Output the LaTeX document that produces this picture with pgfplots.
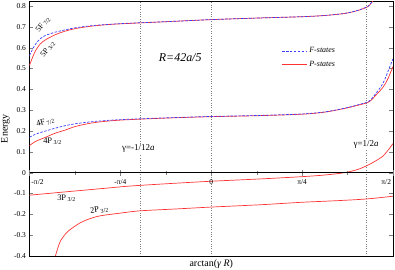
\documentclass[border=0pt]{standalone}
\usepackage{fontspec}
\setmainfont{Liberation Serif}
\usepackage{pgfplots}
\pgfplotsset{compat=1.18}
\definecolor{fblue}{RGB}{60,60,255}
\definecolor{pred}{RGB}{255,50,50}
\tikzset{fdash/.style={fblue, dash pattern=on 2.5pt off 1.5pt, line width=0.7pt}}
\begin{document}
\begin{tikzpicture}
\begin{axis}[
  name=main,
  scale only axis, width=363.5bp, height=254.5bp,
  xmin=-1.5708, xmax=1.5708, ymin=-0.4, ymax=0.822,
  xtick=\empty,
  ytick={-0.4,-0.3,-0.2,-0.1,0,0.1,0.2,0.3,0.4,0.5,0.6,0.7,0.8},
  yticklabel style={font=\fontsize{7.5}{8}\selectfont},
  ytick align=inside, major tick length=4bp,
  /pgf/number format/assume math mode=true,
  /pgf/number format/fixed, /pgf/number format/precision=1,
  ylabel={Energy}, ylabel style={font=\fontsize{10}{11}\selectfont, at={(axis description cs:-0.066,0.5)}, anchor=center},
  xlabel={arctan(\textit{γ R})}, xlabel style={font=\fontsize{10}{11}\selectfont},
  axis line style={line width=0.6pt},
  legend style={draw=none, fill=none, at={(0.685,0.835)}, anchor=north west,
    font=\fontsize{8}{9}\selectfont\itshape, row sep=3bp},
  legend cell align=left,
]
\addlegendimage{legend image code/.code={\draw[fblue, dash pattern=on 2.5pt off 1.5pt, line width=0.7pt] (0bp,0bp) -- (25bp,0bp);}}
\addlegendentry{F-states}
\addlegendimage{legend image code/.code={\draw[pred, line width=0.7pt] (0bp,0bp) -- (25bp,0bp);}}
\addlegendentry{P-states}

% vertical dotted lines
\addplot[gray, dotted, forget plot] coordinates {(-0.6107,-0.4) (-0.6107,0.822)};
\addplot[gray, dotted, forget plot] coordinates {(0,-0.4) (0,0.822)};
\addplot[gray, dotted, forget plot] coordinates {(1.3380,-0.4) (1.3380,0.822)};

% P states (red)
\addplot[pred, line width=0.7pt, smooth, forget plot] coordinates {
(-1.5708,0.515) (-1.545,0.553) (-1.519,0.585) (-1.48,0.617) (-1.4327,0.638)
(-1.3464,0.663) (-1.2601,0.680) (-1.1738,0.692) (-1.0296,0.704) (-0.8717,0.712)
(-0.6991,0.717) (-0.3539,0.726) (0,0.735) (0.4229,0.743) (0.7854,0.749)
(0.9839,0.755) (1.1565,0.765) (1.2687,0.779) (1.3524,0.797) (1.38,0.813) (1.40,0.827) (1.44,0.86)};
\addplot[pred, line width=0.7pt, smooth, forget plot] coordinates {
(-1.5708,0.130) (-1.519,0.150) (-1.4327,0.170) (-1.3464,0.190) (-1.2601,0.205)
(-1.1738,0.222) (-1.0296,0.239) (-0.8717,0.249) (-0.6991,0.255) (-0.3539,0.263)
(0,0.269) (0.4229,0.274) (0.7854,0.281) (0.9839,0.291) (1.1565,0.309)
(1.2687,0.324) (1.3524,0.337) (1.39,0.352) (1.4155,0.368) (1.45,0.388)
(1.48,0.407) (1.5017,0.425) (1.53,0.455) (1.5708,0.510)};
\addplot[pred, line width=0.7pt, smooth, forget plot] coordinates {
(-1.5708,-0.108) (-1.2,-0.089) (-0.9,-0.074) (-0.6991,-0.064) (-0.3539,-0.052)
(0,-0.041) (0.4229,-0.030) (0.7854,-0.019) (0.9839,-0.011) (1.15,0.000)
(1.2687,0.016) (1.3524,0.036) (1.4155,0.055) (1.4844,0.080) (1.5406,0.117) (1.5708,0.140)};
\addplot[pred, line width=0.7pt, smooth, forget plot] coordinates {
(-1.37,-0.46) (-1.3464,-0.400) (-1.3248,-0.360) (-1.3032,-0.328) (-1.26,-0.294)
(-1.2169,-0.272) (-1.1306,-0.240) (-1.0443,-0.220) (-0.958,-0.207) (-0.785,-0.194)
(-0.613,-0.183) (-0.3,-0.174) (0,-0.165) (0.4229,-0.154) (0.7854,-0.142)
(1.1,-0.134) (1.346,-0.126) (1.5708,-0.113)};

% F states (blue dashed)
\addplot[fdash, smooth, forget plot] coordinates {
(-1.5708,0.563) (-1.545,0.592) (-1.519,0.617) (-1.48,0.642) (-1.4327,0.659)
(-1.3464,0.675) (-1.2601,0.686) (-1.1738,0.696) (-1.0296,0.706) (-0.8717,0.713)
(-0.6991,0.718) (-0.3539,0.726) (0,0.735) (0.4229,0.743) (0.7854,0.749)
(0.9839,0.755) (1.1565,0.765) (1.2687,0.780) (1.3524,0.798) (1.38,0.814) (1.40,0.828) (1.44,0.862)};
\addplot[fdash, smooth, forget plot] coordinates {
(-1.5708,0.170) (-1.519,0.185) (-1.4327,0.200) (-1.3464,0.214) (-1.2601,0.226)
(-1.1738,0.235) (-1.0296,0.245) (-0.8717,0.252) (-0.6991,0.257) (-0.3539,0.264)
(0,0.270) (0.4229,0.275) (0.7854,0.282) (0.9839,0.292) (1.1565,0.310)
(1.2687,0.326) (1.3524,0.340) (1.39,0.357) (1.4155,0.375) (1.45,0.400)
(1.48,0.425) (1.5017,0.450) (1.53,0.490) (1.5708,0.547)};

% labels
\node[font=\fontsize{8}{9}\selectfont, rotate=52, inner sep=0pt] at (axis cs:-1.452,0.712) {5F\textsubscript{ 7/2}};
\node[font=\fontsize{8}{9}\selectfont, rotate=52, inner sep=0pt] at (axis cs:-1.412,0.592) {5P\textsubscript{ 3/2}};
\node[font=\fontsize{8.5}{9}\selectfont, rotate=15, inner sep=0pt] at (axis cs:-1.433,0.243) {4F\textsubscript{ 7/2}};
\node[font=\fontsize{8.5}{9}\selectfont, inner sep=0pt] at (axis cs:-1.372,0.150) {4P\textsubscript{ 3/2}};
\node[font=\fontsize{8.5}{9}\selectfont, inner sep=0pt] at (axis cs:-1.251,-0.122) {3P\textsubscript{ 3/2}};
\node[font=\fontsize{8.5}{9}\selectfont, rotate=8, inner sep=0pt] at (axis cs:-0.967,-0.179) {2P\textsubscript{ 3/2}};
\node[font=\fontsize{9}{10}\selectfont, fill=white, inner sep=1pt] at (axis cs:-0.630,0.115) {γ=-1/12\textit{a}};
\node[font=\fontsize{9}{10}\selectfont, fill=white, inner sep=1pt] at (axis cs:1.338,0.135) {γ=1/2\textit{a}};
\node[font=\fontsize{12}{13}\selectfont\itshape] at (axis cs:-0.268,0.553) {R=42a/5};
\end{axis}

\begin{axis}[
  scale only axis, width=363.5bp, height=254.5bp,
  xmin=-1.5708, xmax=1.5708, ymin=-0.4, ymax=0.822,
  axis x line=middle, axis y line=none,
  x axis line style={-, line width=0.6pt},
  xtick={-1.5708,-0.7854,0,0.7854,1.5708},
  xticklabels={\makebox[0pt][l]{\hspace{2pt}-π/2},-π/4,0,π/4,\makebox[0pt][r]{π/2\hspace{2pt}}},
  minor xtick={-1.1781,-0.3927,0.3927,1.1781},
  xtick align=center, major tick length=6bp, minor tick length=4bp,
  xticklabel style={font=\fontsize{7.5}{8}\selectfont},
]
\end{axis}
\pgfresetboundingbox
\path[use as bounding box] (main.south west) ++(-29.5bp,-14bp) rectangle ++(395bp,270bp);
\end{tikzpicture}
\end{document}
